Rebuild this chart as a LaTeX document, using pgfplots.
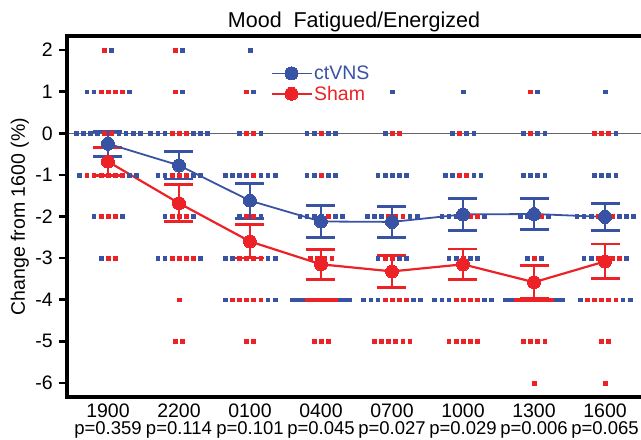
\documentclass[border=0pt]{standalone}
\usepackage{fontspec}
\setmainfont{Liberation Sans}
\usepackage{pgfplots}
\usepackage{pgfplotstable}
\pgfplotsset{compat=1.18}
\definecolor{cblue}{RGB}{57,83,164}
\definecolor{cred}{RGB}{236,34,39}

% category index, offset index (0.1 x-unit each), value
\pgfplotstableread{
c k y
0 0.5 2
0 -3 1
0 -2 1
0 3 1
0 -4.5 0
0 -3.5 0
0 -2.5 0
0 -1.5 0
0 1.5 0
0 2.5 0
0 3.5 0
0 4.5 0
0 -4 -1
0 3 -1
0 4 -1
0 -2 -2
0 2 -2
0 -1 -3
1 0.5 2
1 0.5 1
1 -4 0
1 -3 0
1 -2 0
1 2 0
1 3 0
1 4 0
1 -3 -1
1 -2 -1
1 2 -1
1 3 -1
1 -2 -2
1 2 -2
1 -3 -3
1 -2 -3
1 3 -3
2 0 2
2 0.5 1
2 -1.5 0
2 1.5 0
2 -3.5 -1
2 -2.5 -1
2 -1.5 -1
2 -0.5 -1
2 1.5 -1
2 2.5 -1
2 3.5 -1
2 -1.5 -2
2 1.5 -2
2 -3.5 -3
2 -2.5 -3
2 2.5 -3
2 3.5 -3
2 -3.5 -4
2 2.5 -4
2 3.5 -4
3 -2 0
3 -1 0
3 1 0
3 2 0
3 -2 -1
3 -1 -1
3 1 -1
3 2 -1
3 -3 -2
3 -2 -2
3 -1 -2
3 0 -2
3 2 -2
3 3 -2
3 -4 -4
3 -3.5 -4
3 -3 -4
3 -2.5 -4
3 2.5 -4
3 3 -4
3 3.5 -4
3 4 -4
4 0 1
4 -1 0
4 -2 -1
4 -1 -1
4 0 -1
4 1 -1
4 2 -1
4 -3.5 -2
4 -2.5 -2
4 -1.5 -2
4 2.5 -2
4 3.5 -2
4 -2 -3
4 1 -3
4 2 -3
4 -4 -4
4 -3 -4
4 -2 -4
4 3 -4
4 4 -4
5 0 1
5 -1.5 0
5 0.5 0
5 1.5 0
5 -2.5 -1
5 -1.5 -1
5 1.5 -1
5 2.5 -1
5 -3 -2
5 -2 -2
5 -1 -2
5 3 -2
5 -2 -3
5 -1 -3
5 1 -3
5 2 -3
5 -4 -4
5 -3 -4
5 -2 -4
5 3 -4
5 4 -4
6 0.5 1
6 -1.5 0
6 0.5 0
6 1.5 0
6 -1.5 -1
6 -0.5 -1
6 0.5 -1
6 1.5 -1
6 -2 -2
6 -1 -2
6 2 -2
6 -1 -3
6 1 -3
6 -4 -4
6 -3.5 -4
6 -3 -4
6 3 -4
6 3.5 -4
6 4 -4
7 0 1
7 1.5 0
7 -1.5 -1
7 -0.5 -1
7 0.5 -1
7 1.5 -1
7 -4 -2
7 -3 -2
7 -2 -2
7 2 -2
7 3 -2
7 4 -2
7 -3 -3
7 -2 -3
7 3 -3
7 -3.5 -4
7 2.5 -4
7 3.5 -4
}\bluedots

\pgfplotstableread{
c k y
0 -0.5 2
0 -1 1
0 0 1
0 1 1
0 2 1
0 -0.5 0
0 0.5 0
0 -3 -1
0 -2 -1
0 -1 -1
0 0 -1
0 1 -1
0 2 -1
0 -1 -2
0 0 -2
0 1 -2
0 0 -3
0 1 -3
1 -0.5 2
1 -0.5 1
1 -1 0
1 0 0
1 1 0
1 -1 -1
1 0 -1
1 1 -1
1 -1 -2
1 0 -2
1 1 -2
1 -1 -3
1 0 -3
1 1 -3
1 2 -3
1 0 -4
1 -0.5 -5
1 0.5 -5
2 -0.5 1
2 -0.5 0
2 0.5 0
2 0.5 -1
2 -0.5 -2
2 0.5 -2
2 -1.5 -3
2 -0.5 -3
2 0.5 -3
2 1.5 -3
2 -2.5 -4
2 -1.5 -4
2 -0.5 -4
2 0.5 -4
2 1.5 -4
2 -0.5 -5
2 0.5 -5
3 0 0
3 0 -1
3 1 -2
3 -1.5 -3
3 -0.5 -3
3 0.5 -3
3 1.5 -3
3 -2 -4
3 -1.5 -4
3 -1 -4
3 -0.5 -4
3 0 -4
3 0.5 -4
3 1 -4
3 1.5 -4
3 2 -4
3 -1 -5
3 0 -5
3 1 -5
4 0 0
4 1 0
4 -0.5 -2
4 0.5 -2
4 1.5 -2
4 -1 -3
4 0 -3
4 -1 -4
4 0 -4
4 1 -4
4 2 -4
4 -2.5 -5
4 -1.5 -5
4 -0.5 -5
4 0.5 -5
4 1.5 -5
4 2.5 -5
5 -0.5 0
5 -0.5 -1
5 0.5 -1
5 0 -2
5 1 -2
5 2 -2
5 0 -3
5 -1 -4
5 0 -4
5 1 -4
5 2 -4
5 -2 -5
5 -1 -5
5 0 -5
5 1 -5
5 2 -5
6 -0.5 1
6 -0.5 0
6 0 -2
6 1 -2
6 0 -3
6 -2.5 -4
6 -2 -4
6 -1.5 -4
6 -1 -4
6 -0.5 -4
6 0 -4
6 0.5 -4
6 1 -4
6 1.5 -4
6 2 -4
6 2.5 -4
6 -1.5 -5
6 -0.5 -5
6 0.5 -5
6 1.5 -5
6 0 -6
7 -1.5 0
7 -0.5 0
7 0.5 0
7 -1 -2
7 0 -2
7 1 -2
7 -1 -3
7 0 -3
7 1 -3
7 2 -3
7 -2.5 -4
7 -1.5 -4
7 -0.5 -4
7 0.5 -4
7 1.5 -4
7 -0.5 -5
7 0.5 -5
7 0 -6
}\reddots

\pgfplotstableread{
c m e
0 -0.25 0.30
1 -0.77 0.33
2 -1.62 0.42
3 -2.12 0.38
4 -2.13 0.38
5 -1.95 0.38
6 -1.94 0.38
7 -2.01 0.33
}\bluemean

\pgfplotstableread{
c m e
0 -0.68 0.33
1 -1.68 0.44
2 -2.60 0.40
3 -3.15 0.36
4 -3.32 0.38
5 -3.15 0.37
6 -3.58 0.40
7 -3.08 0.42
}\redmean

\newcommand{\xl}[2]{#1\\[0.5pt]{\fontsize{18.5}{17}\selectfont p=#2}}

\begin{document}
\begin{tikzpicture}
\begin{axis}[
  name=ax,
  width=574pt, height=361pt, scale only axis,
  xmin=-0.577, xmax=7.507, ymin=-6.34, ymax=2.34,
  axis x line=box, axis y line=left,
  axis line style={draw=none},
  clip=false,
  xtick={0,...,7},
  xticklabels={
    {\xl{1900}{0.359}},
    {\xl{2200}{0.114}},
    {\xl{0100}{0.101}},
    {\xl{0400}{0.045}},
    {\xl{0700}{0.027}},
    {\xl{1000}{0.029}},
    {\xl{1300}{0.006}},
    {\xl{1600}{0.065}}},
  xtick style={draw=none},
  xticklabel style={align=center, font=\fontsize{19.5}{17}\selectfont, anchor=north, inner sep=0pt, yshift=1.5pt},
  ytick={-6,...,2},
  ytick style={line width=2.6pt, black},
  tick align=outside, major tick length=8pt,
  /pgf/number format/assume math mode=true,
  yticklabel style={font=\fontsize{19.5}{20}\selectfont, anchor=east, inner sep=0pt, xshift=-6pt},
  ylabel={Change from 1600 (\%)},
  ylabel style={at={(axis description cs:-0.082,0.5)}, anchor=center, inner sep=0pt, font=\fontsize{19.5}{20}\selectfont},
  title={Mood\hspace{0.55em}Fatigued/Energized},
  title style={font=\fontsize{21.5}{21}\selectfont, at={(0.5,1)}, anchor=base, yshift=3pt, inner sep=0pt},
  reverse legend,
  legend style={at={(0.354,0.922)}, anchor=north west, draw=none, fill=none, inner sep=0pt,
    font=\fontsize{19.5}{20}\selectfont, row sep=2pt, nodes={inner sep=1.5pt}},
  legend cell align=left,
  legend image code/.code={\draw[mark repeat=2,mark phase=2,#1] plot coordinates {(0pt,0pt) (20pt,0pt) (40pt,0pt)};},
]
\addplot[forget plot, black!60, line width=1.3pt] coordinates {(-0.577,0) (7.507,0)};
\addplot[forget plot, only marks, mark=square*, mark size=1.9pt, cblue, mark options={draw=none, fill=cblue}]
  table[x expr=\thisrow{c}+0.1*\thisrow{k}, y=y] {\bluedots};
\addplot[forget plot, only marks, mark=square*, mark size=1.9pt, cred, mark options={draw=none, fill=cred}]
  table[x expr=\thisrow{c}+0.1*\thisrow{k}, y=y] {\reddots};
\addplot[cred, line width=2.2pt, mark=*, mark size=6.5pt, mark options={solid, fill=cred, draw=cred, line width=0pt},
  error bars/.cd, y dir=both, y explicit,
  error bar style={line width=2.8pt, cred},
  error mark options={rotate=90, mark size=14.5pt, line width=2.8pt, cred}]
  table[x=c, y=m, y error=e] {\redmean};
\addlegendentry{\textcolor{cred}{Sham}}
\addplot[cblue, line width=1.8pt, mark=*, mark size=6.5pt, mark options={solid, fill=cblue, draw=cblue, line width=0pt},
  error bars/.cd, y dir=both, y explicit,
  error bar style={line width=2.8pt, cblue},
  error mark options={rotate=90, mark size=14.5pt, line width=2.8pt, cblue}]
  table[x=c, y=m, y error=e] {\bluemean};
\addlegendentry{\textcolor{cblue}{ctVNS}}
\draw[black, line width=3.3pt, line cap=rect] (rel axis cs:1,1) -- (rel axis cs:0,1) -- (rel axis cs:0,0) -- (rel axis cs:1,0);
\end{axis}
\pgfresetboundingbox
\path ([xshift=-67pt,yshift=-42pt]ax.south west) rectangle ([yshift=36pt]ax.north east);
\end{tikzpicture}
\end{document}
